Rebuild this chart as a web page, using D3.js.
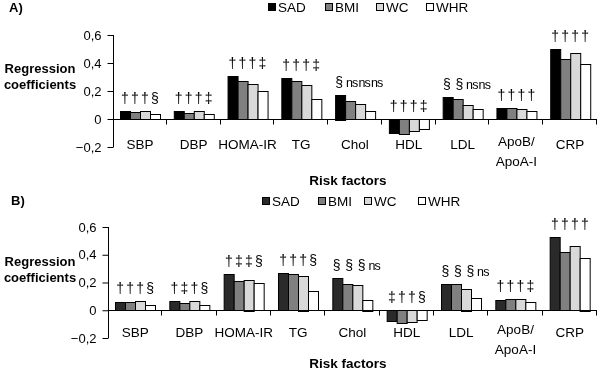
<!DOCTYPE html>
<html>
<head>
<meta charset="utf-8">
<script src="https://cdn.jsdelivr.net/npm/d3@7"></script>
<style>
  body { margin: 0; background: #fff; }
  #chart { will-change: transform; }
  svg text { font-family: Arial, "Liberation Sans", sans-serif; }
</style>
</head>
<body>
<div id="chart"></div>
<script>
const categories = ["SBP", "DBP", "HOMA-IR", "TG", "Chol", "HDL", "LDL", "ApoB/ApoA-I", "CRP"];
const categoryLines = [["SBP"], ["DBP"], ["HOMA-IR"], ["TG"], ["Chol"], ["HDL"], ["LDL"], ["ApoB/", "ApoA-I"], ["CRP"]];
const measures = ["SAD", "BMI", "WC", "WHR"];
const yTicks = [-0.2, 0, 0.2, 0.4, 0.6];

// panel A
const aSAD = [0.055, 0.055, 0.31, 0.29, 0.175, -0.098, 0.157, 0.08, 0.50];
const aBMI = [0.048, 0.040, 0.27, 0.27, 0.13, -0.105, 0.14, 0.08, 0.43];
const aWC = [0.055, 0.055, 0.25, 0.24, 0.105, -0.086, 0.098, 0.074, 0.47];
const aWHR = [0.035, 0.035, 0.20, 0.14, 0.057, -0.074, 0.07, 0.057, 0.39];
const aSig = [["†", "†", "†", "§"], ["†", "†", "†", "‡"], ["†", "†", "†", "‡"], ["†", "†", "†", "‡"],
  ["§", "ns", "ns", "ns"], ["†", "†", "†", "‡"], ["§", "§", "ns", "ns"], ["†", "†", "†", "†"], ["†", "†", "†", "†"]];

// panel B
const bSAD = [0.06, 0.067, 0.26, 0.27, 0.23, -0.08, 0.19, 0.072, 0.525];
const bBMI = [0.06, 0.05, 0.21, 0.26, 0.19, -0.096, 0.19, 0.08, 0.42];
const bWC = [0.067, 0.065, 0.22, 0.25, 0.18, -0.086, 0.156, 0.08, 0.46];
const bWHR = [0.036, 0.036, 0.195, 0.14, 0.077, -0.074, 0.09, 0.058, 0.38];
const bSig = [["†", "†", "†", "§"], ["†", "‡", "†", "§"], ["†", "‡", "‡", "§"], ["†", "†", "†", "§"],
  ["§", "§", "§", "ns"], ["‡", "†", "†", "§"], ["§", "§", "§", "ns"], ["†", "†", "†", "‡"], ["†", "†", "†", "†"]];

const width = 598, height = 374;

const svg = d3.select("#chart").append("svg")
  .attr("width", width)
  .attr("height", height);

svg.append("rect").attr("width", width).attr("height", height).attr("fill", "#fff");

function drawPanel(cfg) {
  const series = [cfg.sad, cfg.bmi, cfg.wc, cfg.whr];
  const colors = [cfg.sadColor, "#808080", "#d9d9d9", "#ffffff"];

  const y = d3.scaleLinear().domain([-0.2, 0.6]).range([cfg.y0, cfg.y1]);
  const x0 = d3.scaleBand().domain(categories).range([cfg.left, 597]).padding(0);
  const bw = x0.bandwidth();
  const x1 = d3.scaleBand().domain(measures).range([7, bw - 7]).padding(0);

  const g = svg.append("g");

  // panel letter
  g.append("text")
    .attr("x", cfg.letterX).attr("y", cfg.letterY)
    .attr("font-size", 13).attr("font-weight", "bold")
    .text(cfg.letter);

  // legend
  const leg = g.append("g");
  measures.forEach(function (m, i) {
    leg.append("rect")
      .attr("x", cfg.legX[i] + 0.5).attr("y", cfg.legY - 3.5)
      .attr("width", 7).attr("height", 7)
      .attr("fill", colors[i]).attr("stroke", "#000");
    leg.append("text")
      .attr("x", cfg.legX[i] + 10).attr("y", cfg.legY + 5)
      .attr("font-size", 13.5)
      .text(m);
  });

  // y axis
  const yAxis = d3.axisLeft(y).tickValues(yTicks).tickSize(6).tickPadding(6)
    .tickFormat(function (d) { return d === 0 ? "0" : d3.format(".1f")(d).replace(".", ","); });
  const ya = g.append("g")
    .attr("transform", "translate(" + (cfg.left + 0.5) + ",0)")
    .call(yAxis);
  ya.select(".domain").attr("d", "M0," + y(0.6) + "V" + y(-0.2));
  ya.selectAll(".tick text").attr("font-size", 13).attr("fill", "#000")
    .attr("font-family", "Arial, 'Liberation Sans', sans-serif");

  // y title
  g.append("text")
    .attr("x", 40).attr("y", cfg.titleY)
    .attr("text-anchor", "middle").attr("font-size", 13).attr("font-weight", "bold")
    .text("Regression");
  g.append("text")
    .attr("x", 40).attr("y", cfg.titleY + 16)
    .attr("text-anchor", "middle").attr("font-size", 13).attr("font-weight", "bold")
    .text("coefficients");

  // bars
  const groups = g.selectAll(".grp")
    .data(categories)
    .enter().append("g")
    .attr("class", "grp")
    .attr("transform", function (d) { return "translate(" + x0(d) + ",0)"; });

  groups.selectAll("rect")
    .data(function (d, ci) { return measures.map(function (m, mi) { return { m: m, v: series[mi][ci], mi: mi }; }); })
    .enter().append("rect")
    .attr("x", function (d) { return Math.round(x1(d.m)) + 0.5; })
    .attr("y", function (d) { return Math.round(y(Math.max(0, d.v))) + 0.5; })
    .attr("width", Math.round(x1.bandwidth()))
    .attr("height", function (d) { return Math.max(1, Math.round(Math.abs(y(d.v) - y(0)))); })
    .attr("fill", function (d) { return colors[d.mi]; })
    .attr("stroke", "#000")
    .attr("stroke-width", 1);

  // significance marks, spread a bit wider when a group holds "ns"
  groups.selectAll("text.sig")
    .data(function (d, ci) {
      const top = d3.min(series, function (s) { return y(Math.max(0, s[ci])); });
      const step = cfg.sig[ci].indexOf("ns") >= 0 ? 12.5 : 10;
      return measures.map(function (m, mi) { return { mi: mi, s: cfg.sig[ci][mi], top: top, step: step }; });
    })
    .enter().append("text")
    .attr("class", "sig")
    .attr("x", function (d) { return bw / 2 + (d.mi - 1.5) * d.step + (d.step > 10 ? 3 : 0); })
    .attr("y", function (d) { return d.top - 8; })
    .attr("text-anchor", "middle")
    .attr("font-size", function (d) { return d.s === "ns" ? 12.5 : 14; })
    .attr("letter-spacing", function (d) { return d.s === "ns" ? -0.8 : 0; })
    .attr("fill", "#000")
    .attr("font-family", "'Liberation Serif', 'Times New Roman', serif")
    .text(function (d) { return d.s; });

  // x axis at zero with ticks between categories
  const xa = g.append("g").attr("transform", "translate(0," + (Math.round(y(0)) + 0.5) + ")");
  xa.append("line")
    .attr("x1", cfg.left).attr("x2", 597)
    .attr("stroke", "#000");
  xa.selectAll("line.tk")
    .data(categories)
    .enter().append("line")
    .attr("class", "tk")
    .attr("x1", function (d) { return Math.round(x0(d) + bw) - 0.5; })
    .attr("x2", function (d) { return Math.round(x0(d) + bw) - 0.5; })
    .attr("y1", 0).attr("y2", 5)
    .attr("stroke", "#000");

  // category labels
  const lab = g.selectAll(".lab")
    .data(categories)
    .enter().append("text")
    .attr("class", "lab")
    .attr("text-anchor", "middle")
    .attr("font-size", 13.5)
    .attr("x", function (d) { return x0(d) + bw / 2; })
    .attr("y", function (d, i) { return categoryLines[i].length > 1 ? cfg.labY - 3 : cfg.labY; });
  lab.selectAll("tspan")
    .data(function (d, i) { return categoryLines[i]; })
    .enter().append("tspan")
    .attr("x", function () { return d3.select(this.parentNode).attr("x"); })
    .attr("dy", function (d, i) { return i === 0 ? 0 : 20; })
    .text(function (d) { return d; });

  g.append("text")
    .attr("x", 348).attr("y", cfg.xTitleY)
    .attr("text-anchor", "middle").attr("font-size", 13.5).attr("font-weight", "bold")
    .text("Risk factors");
}

drawPanel({
  letter: "A)", letterX: 9, letterY: 12,
  legX: [268, 325, 376, 426], legY: 7,
  left: 113, y0: 147, y1: 35,
  titleY: 73, labY: 149, xTitleY: 185,
  sadColor: "#000000",
  sad: aSAD, bmi: aBMI, wc: aWC, whr: aWHR, sig: aSig
});

drawPanel({
  letter: "B)", letterX: 11, letterY: 205,
  legX: [262, 318, 364, 418], legY: 201,
  left: 108, y0: 338, y1: 227,
  titleY: 266, labY: 337, xTitleY: 368,
  sadColor: "#2a2a2a",
  sad: bSAD, bmi: bBMI, wc: bWC, whr: bWHR, sig: bSig
});
</script>
</body>
</html>
